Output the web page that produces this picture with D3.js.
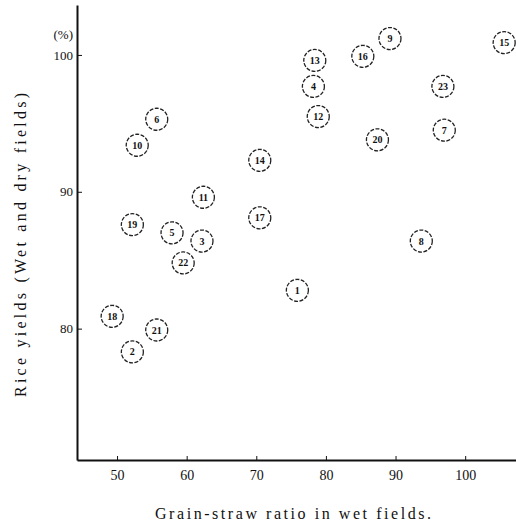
<!DOCTYPE html>
<html>
<head>
<meta charset="utf-8">
<script src="https://cdn.jsdelivr.net/npm/d3@7"></script>
<style>
  html, body { margin: 0; padding: 0; background: #fff; }
  svg { display: block; }
  text { font-family: "Liberation Serif", "DejaVu Serif", serif; fill: #111; }
</style>
</head>
<body>
<svg id="chart"></svg>
<script>
// field numbers, grain-straw ratio (wet fields), rice yield (%)
const plots = ['1','2','3','4','5','6','7','8','9','10','11','12','13','14','15','16','17','18','19','20','21','22','23'];
const strawRatio = [75.9, 52.2, 62.2, 78.2, 57.9, 55.7, 97.0, 93.7, 89.2, 52.9, 62.4, 78.9, 78.4, 70.5, 105.6, 85.3, 70.5, 49.3, 52.2, 87.4, 55.7, 59.5, 96.8];
const riceYield  = [82.8, 78.3, 86.4, 97.7, 87.0, 95.3, 94.5, 86.4, 101.2, 93.4, 89.6, 95.5, 99.6, 92.3, 100.9, 99.9, 88.1, 80.9, 87.6, 93.8, 79.9, 84.8, 97.7];
const xTicks = [50, 60, 70, 80, 90, 100];
const yTicks = [80, 90, 100];

const width = 516, height = 527;
const margin = { left: 77, right: 516, top: 5, bottom: 460 };

const svg = d3.select('#chart')
  .attr('width', width)
  .attr('height', height);

const x = d3.scaleLinear().domain([44.25, 107.3]).range([margin.left, margin.right]);
const y = d3.scaleLinear().domain([70.4, 103.65]).range([margin.bottom, margin.top]);

// x axis, ticks pointing up into the plot
const xAxis = d3.axisBottom(x).tickValues(xTicks).tickSizeInner(-4).tickSizeOuter(0).tickPadding(10);
const gx = svg.append('g')
  .attr('transform', `translate(0, ${margin.bottom})`)
  .call(xAxis);
gx.select('.domain').attr('stroke', '#111').attr('stroke-width', 2);
gx.selectAll('.tick line').attr('stroke', '#111');
gx.selectAll('.tick text').attr('font-size', 14).attr('fill', '#111');

// y axis, ticks pointing right into the plot
const yAxis = d3.axisLeft(y).tickValues(yTicks).tickSizeInner(-5).tickSizeOuter(0).tickPadding(4);
const gy = svg.append('g')
  .attr('transform', `translate(${margin.left}, 0)`)
  .call(yAxis);
gy.select('.domain').attr('stroke', '#111').attr('stroke-width', 2);
gy.selectAll('.tick line').attr('stroke', '#111');
gy.selectAll('.tick text').attr('font-size', 13).attr('fill', '#111');

svg.append('text')
  .attr('x', margin.left - 4)
  .attr('y', y(100) - 16)
  .attr('text-anchor', 'end')
  .attr('font-size', 13)
  .text('(%)');

// circled plot numbers
const points = plots.map((p, i) => ({ label: p, sx: strawRatio[i], ry: riceYield[i] }));

const marks = svg.append('g').selectAll('g')
  .data(points)
  .enter()
  .append('g')
  .attr('transform', d => `translate(${x(d.sx)}, ${y(d.ry)})`);

marks.append('circle')
  .attr('r', 11)
  .attr('fill', 'none')
  .attr('stroke', '#222')
  .attr('stroke-width', 1.3)
  .attr('stroke-dasharray', '4,1.5');

marks.append('text')
  .attr('text-anchor', 'middle')
  .attr('dy', '0.35em')
  .attr('font-size', 10)
  .attr('font-weight', 'bold')
  .text(d => d.label);

// axis titles, stretched to the width they take in the original
svg.append('text')
  .attr('x', 155)
  .attr('y', 519)
  .attr('font-size', 16)
  .attr('textLength', 276)
  .attr('lengthAdjust', 'spacing')
  .text('Grain-straw ratio in wet fields.');

svg.append('text')
  .attr('transform', `translate(26, 397) rotate(-90)`)
  .attr('font-size', 16)
  .attr('textLength', 304)
  .attr('lengthAdjust', 'spacing')
  .text('Rice yields (Wet and dry fields)');
</script>
</body>
</html>
